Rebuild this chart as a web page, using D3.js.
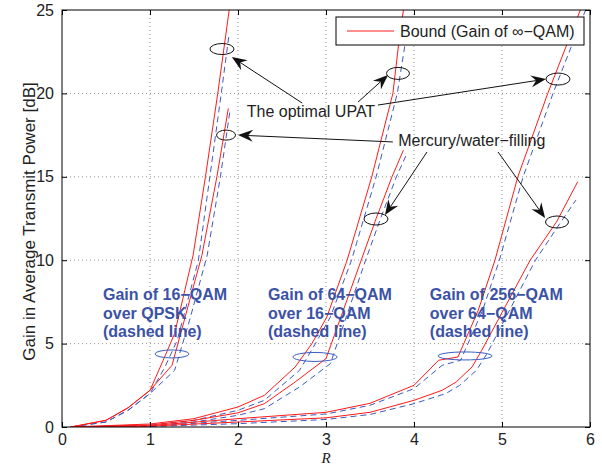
<!DOCTYPE html>
<html>
<head>
<meta charset="utf-8">
<script src="https://cdn.jsdelivr.net/npm/d3@7"></script>
<style>
  html, body { margin: 0; padding: 0; background: #fff; }
  svg { display: block; }
</style>
</head>
<body>
<svg id="chart" width="602" height="467"></svg>
<script>
// ---- data: gain in average transmit power [dB] versus rate R ----
// "bnd" = bound (gain of infinite-QAM), red solid; "gain" = actual constellation gain, blue dashed

// 16-QAM over QPSK
const q16_upat_bnd_R  = [0.1, 0.5, 0.75, 1.0, 1.15, 1.28, 1.49, 1.63, 1.77, 1.90];
const q16_upat_bnd_dB = [0, 0.4, 1.15, 2.2, 4.0, 5.6, 10.3, 15, 20, 25];
const q16_merc_bnd_R  = [0.1, 0.5, 0.75, 1.0, 1.25, 1.40, 1.59, 1.76, 1.89];
const q16_merc_bnd_dB = [0, 0.4, 1.15, 2.2, 3.7, 6.6, 10.3, 15, 19.1];
const q16_upat_gain_R  = [0.1, 0.5, 0.75, 1.0, 1.17, 1.31, 1.55, 1.68, 1.81, 1.90];
const q16_upat_gain_dB = [0, 0.3, 1.0, 2.0, 3.6, 5.2, 10, 15, 20, 23.6];
const q16_merc_gain_R  = [0.1, 0.5, 0.75, 1.0, 1.28, 1.45, 1.65, 1.80, 1.91];
const q16_merc_gain_dB = [0, 0.3, 1.0, 2.0, 3.4, 6.4, 10.3, 15, 19];

// 64-QAM over 16-QAM
const q64_upat_bnd_R  = [0.1, 1.0, 1.5, 2.0, 2.3, 2.65, 2.84, 3.01, 3.24, 3.52, 3.76, 3.84, 3.88];
const q64_upat_bnd_dB = [0, 0.18, 0.5, 1.2, 1.9, 3.6, 5.0, 6.6, 10, 15, 20, 23.6, 25];
const q64_merc_bnd_R  = [0.1, 1.0, 1.5, 2.0, 2.3, 2.65, 3.0, 3.40, 3.57, 3.75, 3.88];
const q64_merc_bnd_dB = [0, 0.12, 0.4, 0.85, 1.4, 2.7, 4.1, 10, 12.5, 15, 16.6];
const q64_upat_gain_R  = [0.1, 1.0, 1.5, 2.0, 2.3, 2.7, 2.88, 3.05, 3.29, 3.57, 3.81, 3.93];
const q64_upat_gain_dB = [0, 0.1, 0.4, 1.0, 1.6, 3.4, 5.0, 6.6, 10, 15, 20, 24];
const q64_merc_gain_R  = [0.1, 1.0, 1.5, 2.0, 2.3, 2.7, 3.05, 3.45, 3.62, 3.80, 3.92];
const q64_merc_gain_dB = [0, 0.07, 0.3, 0.7, 1.1, 2.4, 3.8, 10, 12.5, 15, 16.4];

// 256-QAM over 64-QAM
const q256_upat_bnd_R  = [0.1, 1.0, 2.0, 3.0, 3.5, 4.0, 4.28, 4.5, 4.73, 4.92, 5.18, 5.52, 5.89];
const q256_upat_bnd_dB = [0, 0.08, 0.5, 0.88, 1.42, 2.5, 4.0, 4.2, 7.0, 10, 15, 20, 25];
const q256_merc_bnd_R  = [0.1, 1.0, 2.0, 3.0, 3.5, 4.0, 4.32, 4.48, 4.66, 4.77, 5.32, 5.62, 5.86];
const q256_merc_bnd_dB = [0, 0.05, 0.3, 0.55, 0.88, 1.6, 2.2, 2.7, 3.6, 4.6, 10, 12.3, 14.7];
const q256_upat_gain_R  = [0.1, 1.0, 2.0, 3.0, 3.5, 4.0, 4.32, 4.53, 4.78, 4.97, 5.24, 5.58, 5.95];
const q256_upat_gain_dB = [0, 0.04, 0.4, 0.78, 1.3, 2.3, 3.7, 4.0, 7.0, 10, 15, 20, 25];
const q256_merc_gain_R  = [0.1, 1.0, 2.0, 3.0, 3.5, 4.0, 4.36, 4.52, 4.71, 4.83, 5.38, 5.67, 5.84];
const q256_merc_gain_dB = [0, 0.03, 0.2, 0.45, 0.75, 1.4, 2.0, 2.5, 3.4, 4.4, 10, 12.3, 13.6];

const xTicks = [0, 1, 2, 3, 4, 5, 6];
const yTicks = [0, 5, 10, 15, 20, 25];

const groupLabels = [
  ["Gain of 16\u2212QAM", "over QPSK", "(dashed line)"],
  ["Gain of 64\u2212QAM", "over 16\u2212QAM", "(dashed line)"],
  ["Gain of 256\u2212QAM", "over 64\u2212QAM", "(dashed line)"]
];
const groupLabelR = [0.466, 2.34, 4.18];
const groupLabelDB = 7.61;
// blue ellipses marking the dashed curves of each group (centre R, dB; radii px)
const blueEllipses = [[1.25, 4.38, 17, 4], [2.875, 4.2, 22, 4.5], [4.58, 4.26, 27, 4]];
// black ellipses: optimal UPAT, then mercury/water-filling
const upatEllipses = [[1.818, 22.66, 12, 5.5], [3.818, 21.2, 11.5, 6], [5.636, 20.86, 12, 6]];
const mercEllipses = [[1.864, 17.5, 9.5, 5], [3.568, 12.47, 12, 6], [5.625, 12.29, 11.5, 6]];
// arrows: [fromR, fromDB, toR, toDB]
const upatArrows = [[2.73, 19.42, 1.93, 22.18], [3.364, 19.48, 3.705, 21.10], [3.59, 19.3, 5.5, 20.86]];
const mercArrows = [[3.76, 17.09, 2.0, 17.5], [4.148, 16.49, 3.67, 12.71], [4.955, 16.49, 5.49, 12.53]];
const upatText = { label: "The optimal UPAT", R: 2.10, dB: 18.58 };
const mercText = { label: "Mercury/water\u2212filling", R: 3.82, dB: 16.85 };
const legendLabel = "Bound (Gain of \u221E\u2212QAM)";

// ---- layout ----
const W = 602, H = 467;
const m = { left: 62, top: 10, right: 12, bottom: 40 };
const pw = W - m.left - m.right, ph = H - m.top - m.bottom;
const SANS = "'Liberation Sans', Arial, Helvetica, sans-serif";
const SERIF = "'Liberation Serif', 'Times New Roman', serif";

const svg = d3.select("#chart").style("font-family", SANS);
const x = d3.scaleLinear().domain([0, 6]).range([m.left, m.left + pw]);
const y = d3.scaleLinear().domain([0, 25]).range([m.top + ph, m.top]);

svg.append("defs").append("clipPath").attr("id", "plotclip")
  .append("rect").attr("x", m.left).attr("y", m.top).attr("width", pw).attr("height", ph);

// grid (dotted)
const grid = svg.append("g").attr("stroke", "#777").attr("stroke-width", 0.8)
  .attr("stroke-dasharray", "1,3");
grid.selectAll("line.gx").data(xTicks.slice(1, -1)).join("line")
  .attr("x1", d => x(d)).attr("x2", d => x(d)).attr("y1", m.top).attr("y2", m.top + ph);
grid.selectAll("line.gy").data(yTicks.slice(1, -1)).join("line")
  .attr("y1", d => y(d)).attr("y2", d => y(d)).attr("x1", m.left).attr("x2", m.left + pw);

// curves
const line = d3.line().x(d => x(d[0])).y(d => y(d[1]));
const zip = (a, b) => a.map((v, i) => [v, b[i]]);
const gainSeries = [
  zip(q16_upat_gain_R, q16_upat_gain_dB), zip(q16_merc_gain_R, q16_merc_gain_dB),
  zip(q64_upat_gain_R, q64_upat_gain_dB), zip(q64_merc_gain_R, q64_merc_gain_dB),
  zip(q256_upat_gain_R, q256_upat_gain_dB), zip(q256_merc_gain_R, q256_merc_gain_dB)
];
const bndSeries = [
  zip(q16_upat_bnd_R, q16_upat_bnd_dB), zip(q16_merc_bnd_R, q16_merc_bnd_dB),
  zip(q64_upat_bnd_R, q64_upat_bnd_dB), zip(q64_merc_bnd_R, q64_merc_bnd_dB),
  zip(q256_upat_bnd_R, q256_upat_bnd_dB), zip(q256_merc_bnd_R, q256_merc_bnd_dB)
];
const curves = svg.append("g").attr("clip-path", "url(#plotclip)").attr("fill", "none");
curves.selectAll("path.gain").data(gainSeries).join("path").attr("class", "gain")
  .attr("d", line).attr("stroke", "#3a5cc0").attr("stroke-width", 1)
  .attr("stroke-dasharray", "6,4");
curves.selectAll("path.bnd").data(bndSeries).join("path").attr("class", "bnd")
  .attr("d", line).attr("stroke", "#ff1a1a").attr("stroke-width", 1);

// axes box and inward ticks on all four sides
const axG = svg.append("g");
const tl = 5;
const axB = d3.axisBottom(x).tickValues(xTicks).tickFormat(d3.format("d"))
  .tickSizeInner(-tl).tickSizeOuter(0).tickPadding(7);
const axL = d3.axisLeft(y).tickValues(yTicks).tickFormat(d3.format("d"))
  .tickSizeInner(-tl).tickSizeOuter(0).tickPadding(8);
const axT = d3.axisTop(x).tickValues(xTicks).tickSizeInner(-tl).tickSizeOuter(0).tickFormat("");
const axR = d3.axisRight(y).tickValues(yTicks).tickSizeInner(-tl).tickSizeOuter(0).tickFormat("");
axG.append("g").attr("transform", `translate(0,${m.top + ph})`).call(axB);
axG.append("g").attr("transform", `translate(${m.left},0)`).call(axL);
axG.append("g").attr("transform", `translate(0,${m.top})`).call(axT);
axG.append("g").attr("transform", `translate(${m.left + pw},0)`).call(axR);
axG.selectAll(".domain").remove();
axG.selectAll(".tick line").attr("stroke", "#000");
axG.selectAll("g").attr("font-family", null).attr("font-size", null);
axG.selectAll(".tick text").style("font-size", "16px").style("font-family", SANS).attr("fill", "#222");
svg.append("rect").attr("x", m.left).attr("y", m.top).attr("width", pw).attr("height", ph)
  .attr("fill", "none").attr("stroke", "#000").attr("stroke-width", 1);

// axis titles
svg.append("text").attr("x", x(3)).attr("y", 463).attr("text-anchor", "middle")
  .style("font-family", SERIF).style("font-style", "italic")
  .style("font-size", "15px").attr("fill", "#222").text("R");
svg.append("text").attr("transform", `translate(35,${m.top + ph / 2 + 3}) rotate(-90)`)
  .attr("text-anchor", "middle").style("font-size", "17px").attr("fill", "#222")
  .text("Gain in Average Transmit Power [dB]");

// group labels (blue, bold)
groupLabels.forEach((lines, i) => {
  const t = svg.append("text").attr("x", x(groupLabelR[i])).attr("y", y(groupLabelDB))
    .style("font-size", "16px").style("font-weight", "bold").attr("fill", "#3b52a6");
  lines.forEach((s, j) => t.append("tspan").attr("x", x(groupLabelR[i])).attr("dy", j ? 18.5 : 0).text(s));
});

// ellipses
svg.append("g").selectAll("ellipse").data(blueEllipses).join("ellipse")
  .attr("cx", d => x(d[0])).attr("cy", d => y(d[1])).attr("rx", d => d[2]).attr("ry", d => d[3])
  .attr("fill", "none").attr("stroke", "#3a5cc0").attr("stroke-width", 1);
svg.append("g").selectAll("ellipse").data(upatEllipses.concat(mercEllipses)).join("ellipse")
  .attr("cx", d => x(d[0])).attr("cy", d => y(d[1])).attr("rx", d => d[2]).attr("ry", d => d[3])
  .attr("fill", "none").attr("stroke", "#111").attr("stroke-width", 1);

// annotation arrows with concave-back heads
function arrow(g, a) {
  const x1 = x(a[0]), y1 = y(a[1]), x2 = x(a[2]), y2 = y(a[3]);
  const ang = Math.atan2(y2 - y1, x2 - x1);
  const L = 15, Wd = 6, back = 10;
  const ux = Math.cos(ang), uy = Math.sin(ang), nx = -uy, ny = ux;
  g.append("line").attr("x1", x1).attr("y1", y1).attr("x2", x2 - ux * back).attr("y2", y2 - uy * back)
    .attr("stroke", "#111").attr("stroke-width", 1);
  const p = [
    [x2, y2],
    [x2 - ux * L + nx * Wd, y2 - uy * L + ny * Wd],
    [x2 - ux * back, y2 - uy * back],
    [x2 - ux * L - nx * Wd, y2 - uy * L - ny * Wd]
  ];
  g.append("path").attr("d", "M" + p.map(q => q.join(",")).join("L") + "Z").attr("fill", "#111");
}
const arrG = svg.append("g");
upatArrows.concat(mercArrows).forEach(a => arrow(arrG, a));

// annotation texts
[upatText, mercText].forEach(t => {
  svg.append("text").attr("x", x(t.R)).attr("y", y(t.dB)).style("font-size", "16px")
    .attr("fill", "#222").text(t.label);
});

// legend
const lg = svg.append("g");
lg.append("rect").attr("x", 336).attr("y", 17).attr("width", 248).attr("height", 28)
  .attr("fill", "#fff").attr("stroke", "#000").attr("stroke-width", 1);
lg.append("line").attr("x1", 347).attr("x2", 394).attr("y1", 31).attr("y2", 31)
  .attr("stroke", "#ff1a1a").attr("stroke-width", 1);
lg.append("text").attr("x", 400).attr("y", 37).style("font-size", "16px").attr("fill", "#222").text(legendLabel);
</script>
</body>
</html>
